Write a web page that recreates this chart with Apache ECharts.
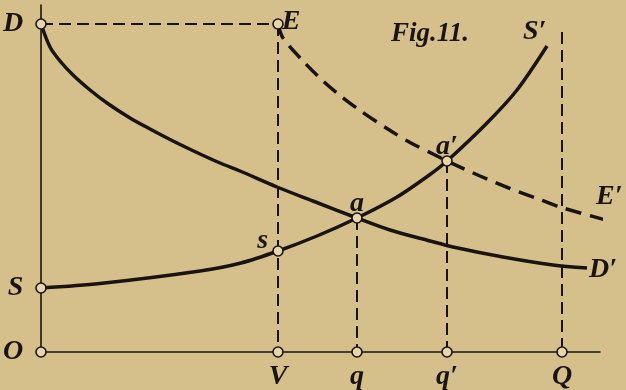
<!DOCTYPE html>
<html>
<head>
<meta charset="utf-8">
<script src="https://cdn.jsdelivr.net/npm/echarts@6/dist/echarts.min.js"></script>
<style>
html,body{margin:0;padding:0;background:#d5c08c;}
#chart{width:626px;height:390px;}
</style>
</head>
<body>
<div id="chart"></div>
<script>
// Units: x = quantity, y = price (origin at O)
const demandX = [0, 9, 19, 32, 49, 66, 89, 109, 132, 159, 179, 199, 236, 272, 316, 349, 389, 412, 462, 512, 546];
const demandY = [328, 305, 291, 277, 262, 249, 234, 223, 211, 198, 189, 181, 165, 151, 134, 122, 111, 105, 95, 87, 84];

const supplyX = [0, 59, 159, 200, 237, 276, 316, 356, 389, 406, 446, 476, 506];
const supplyY = [64, 68.5, 81, 89, 101, 116, 134, 155, 177.5, 191, 229, 262, 306];

const newDemandX = [237, 242, 262, 282, 299, 319, 346, 369, 392, 406, 439, 469, 499, 522, 576];
const newDemandY = [328, 314, 291, 271, 256.5, 241.5, 223.5, 209.5, 198, 191, 176, 163.5, 152.5, 144, 129];

const pointNames = ['O', 'D', 'E', 'S', 's', 'a', 'a′', 'V', 'q', 'q′', 'Q'];
const pointX = [0, 0, 237, 0, 237, 316, 406, 237, 316, 406, 521];
const pointY = [0, 328, 328, 64, 101, 134, 191, 0, 0, 0, 0];
const pointLabelSide = ['left', 'left', 'right', 'left', 'topLeft', 'top', 'top', 'bottom', 'bottom', 'bottom', 'bottom'];

const guideLines = [
  [[0, 328], [237, 328]],
  [[237, 328], [237, 0]],
  [[316, 134], [316, 0]],
  [[406, 191], [406, 0]],
  [[521, 320], [521, 0]]
];

const curveLabels = ['D′', 'S′', 'E′'];
const figTitle = 'Fig.11.';

const FONT = '"Liberation Serif", "DejaVu Serif", serif';
const BG = '#d5c08c';
const INK = '#1a1410';

function zip(xs, ys) { return xs.map((x, i) => [x, ys[i]]); }

const labelCfg = {
  left:    { position: 'left', distance: 12 },
  right:   { position: 'right', distance: 0, offset: [-2, -2] },
  topLeft: { position: 'left', distance: 4, offset: [0, -10] },
  top:     { position: 'top', distance: 0, offset: [0, 6] },
  bottom:  { position: 'bottom', distance: 4, offset: [0, 1] }
};

const textStyle = { color: INK, fontFamily: FONT, fontStyle: 'italic', fontWeight: 'bold', fontSize: 28 };

const series = [];

guideLines.forEach(seg => {
  series.push({
    type: 'line', data: seg, symbol: 'none', silent: true,
    lineStyle: { color: INK, width: 2, type: [12, 6] }, z: 2
  });
});

series.push({
  type: 'line', data: zip(demandX, demandY), smooth: 0.3,
  symbol: 'none', lineStyle: { color: INK, width: 3.5 }, z: 3,
  endLabel: Object.assign({ show: true, formatter: curveLabels[0], distance: 2, offset: [0, 2] }, textStyle)
});
series.push({
  type: 'line', data: zip(supplyX, supplyY), smooth: 0.3,
  symbol: 'none', lineStyle: { color: INK, width: 3.5 }, z: 3,
  endLabel: Object.assign({ show: true, formatter: curveLabels[1], distance: 0, offset: [-24, -14] }, textStyle)
});
series.push({
  type: 'line', data: zip(newDemandX, newDemandY), smooth: 0.3,
  symbol: 'none', lineStyle: { color: INK, width: 3.5, type: [16, 9] }, z: 3,
  endLabel: Object.assign({ show: true, formatter: curveLabels[2], distance: 0, offset: [-7, -22] }, textStyle)
});

series.push({
  type: 'scatter', symbol: 'circle', symbolSize: 10, z: 5,
  itemStyle: { color: '#e6d6a8', borderColor: INK, borderWidth: 1.6, opacity: 1 },
  data: pointNames.map((n, i) => ({
    value: [pointX[i], pointY[i]], name: n,
    label: Object.assign({ show: true, formatter: n }, labelCfg[pointLabelSide[i]])
  })),
  label: textStyle
});

const chart = echarts.init(document.getElementById('chart'), null, { renderer: 'canvas' });
chart.setOption({
  backgroundColor: BG,
  animation: false,
  title: {
    text: figTitle, left: 386, top: 16,
    textStyle: { color: INK, fontFamily: FONT, fontStyle: 'italic', fontWeight: 'bold', fontSize: 27 }
  },
  grid: { left: 41, right: 26, top: 5, bottom: 38 },
  xAxis: {
    type: 'value', min: 0, max: 559,
    axisLine: { show: true, lineStyle: { color: INK, width: 1.6 } },
    axisTick: { show: false }, axisLabel: { show: false }, splitLine: { show: false }
  },
  yAxis: {
    type: 'value', min: 0, max: 347,
    axisLine: { show: true, lineStyle: { color: INK, width: 1.6 } },
    axisTick: { show: false }, axisLabel: { show: false }, splitLine: { show: false }
  },
  series: series
});
</script>
</body>
</html>
